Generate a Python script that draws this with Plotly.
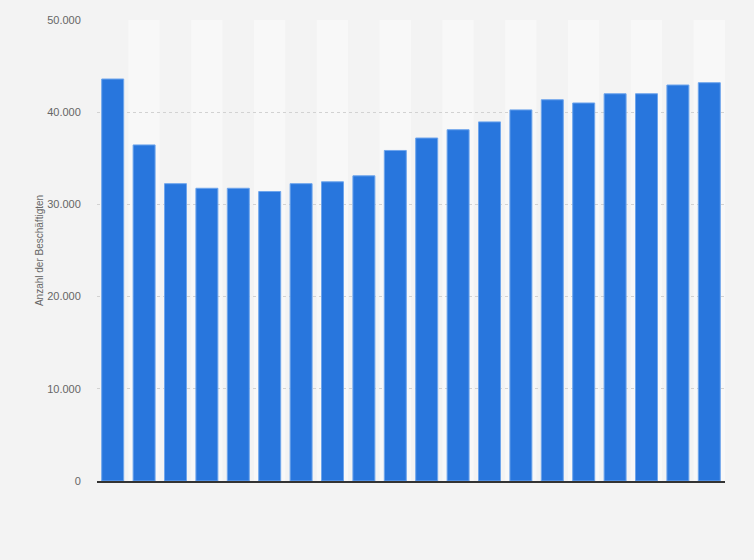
import plotly.graph_objects as go

years = [str(y) for y in range(2000, 2020)]
employees = [43600, 36450, 32250, 31750, 31750, 31400, 32250, 32450, 33100, 35850,
             37200, 38100, 38950, 40250, 41350, 41000, 42000, 42000, 42950, 43200]
y_ticks = [0, 10000, 20000, 30000, 40000, 50000]
y_title = "Anzahl der Beschäftigten"

fig = go.Figure()
fig.add_trace(go.Bar(
    x=years, y=employees,
    marker=dict(color="#2876dd", line=dict(color="#6ea5ec", width=1)),
    hoverinfo="x+y",
))

shapes = []
for i, _ in enumerate(years):
    shapes.append(dict(
        type="rect", xref="x", yref="paper", x0=i - 0.5, x1=i + 0.5, y0=0, y1=1,
        fillcolor="#f8f8f8" if i % 2 == 1 else "#f3f3f3", line=dict(width=0), layer="below",
    ))

fig.update_layout(
    template="none",
    width=754, height=560,
    paper_bgcolor="#f3f3f3", plot_bgcolor="#f3f3f3",
    margin=dict(l=97, r=29, t=20, b=79),
    bargap=0.3,
    separators=",.",
    showlegend=False,
    shapes=shapes,
    font=dict(family="Liberation Sans, Arial, sans-serif", color="#666666"),
    xaxis=dict(type="category", range=[-0.5, len(years) - 0.5],
               showticklabels=False, showgrid=False, zeroline=False,
               showline=True, linecolor="#333333", linewidth=1.5, ticks=""),
    yaxis=dict(range=[0, 50000], tickvals=y_ticks, tickformat=",d",
               showgrid=True, gridcolor="#d2d2d2", griddash="dot", gridwidth=1,
               zeroline=False, showline=False, ticks="outside", ticklen=13,
               tickcolor="rgba(0,0,0,0)",
               tickfont=dict(size=11, color="#666666"),
               title=dict(text=y_title, font=dict(size=10, color="#666666"), standoff=1)),
)

fig.write_html(
    "out.html",
    config={"displayModeBar": False},
    post_script="document.body.style.margin='0';document.body.style.background='#f3f3f3';document.body.style.overflow='hidden';",
)
